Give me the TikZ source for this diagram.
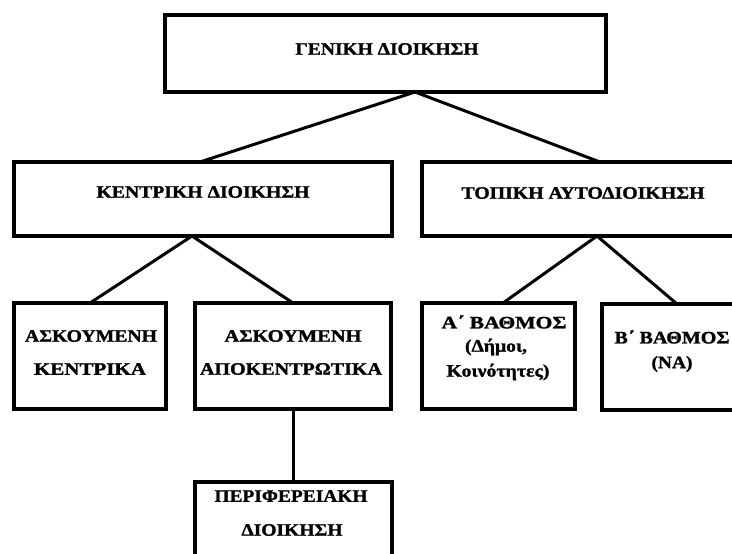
\documentclass[tikz,border=0pt]{standalone}
\usepackage{fontspec}
\usepackage{graphicx}
\setmainfont{Liberation Serif}[BoldFeatures={FakeBold=1.3}]
\newcommand{\fitto}[2]{\resizebox{#1}{\height}{#2}}
\begin{document}
\begin{tikzpicture}[x=1pt,y=-1pt,
  box/.style={draw=black, line width=3.2pt, fill=white, outer sep=0pt, inner sep=0pt},
  lbl/.style={font=\bfseries\fontsize{17.5}{21}\selectfont, inner sep=0pt, anchor=center},
  conn/.style={line width=3pt, line cap=round}]
\useasboundingbox (0,0) rectangle (732,554);
\clip (0,0) rectangle (732,554);
% boxes
\node[box, minimum width=441pt, minimum height=77pt] (gen) at (385.5,53.5) {};
\node[box, minimum width=378pt, minimum height=74pt] (ken) at (203,199) {};
\node[box, minimum width=323pt, minimum height=74pt] (top) at (583.5,199) {};
\node[box, minimum width=152pt, minimum height=106pt] (ak) at (90,356) {};
\node[box, minimum width=196pt, minimum height=106pt] (aa) at (293,356) {};
\node[box, minimum width=153pt, minimum height=106pt] (a1) at (498.5,356) {};
\node[box, minimum width=148pt, minimum height=106pt] (b2) at (676,357) {};
\node[box, minimum width=197pt, minimum height=98pt] (per) at (293.5,531) {};
% connectors
\draw[conn] ([xshift=29.5pt]gen.south) -- ([xshift=-3pt]ken.north);
\draw[conn] ([xshift=29.5pt]gen.south) -- ([xshift=16.5pt]top.north);
\draw[conn] ([xshift=-11pt]ken.south) -- (ak.north);
\draw[conn] ([xshift=-11pt]ken.south) -- (aa.north);
\draw[conn] ([xshift=13.5pt]top.south) -- ([xshift=4.5pt]a1.north);
\draw[conn] ([xshift=13.5pt]top.south) -- ([xshift=1pt]b2.north);
\draw[conn] (aa.south) -- (aa.south |- per.north);
% labels
\node[lbl] (tgen) at (387,49) {\fitto{183pt}{ΓΕΝΙΚΗ ΔΙΟΙΚΗΣΗ}};
\node[lbl] (tken) at (203,192) {\fitto{213pt}{ΚΕΝΤΡΙΚΗ ΔΙΟΙΚΗΣΗ}};
\node[lbl] (ttop) at (583,193) {\fitto{243pt}{ΤΟΠΙΚΗ ΑΥΤΟΔΙΟΙΚΗΣΗ}};
\node[lbl] (tak1) at (91,336) {\fitto{132pt}{ΑΣΚΟΥΜΕΝΗ}};
\node[lbl] (tak2) at (90,369) {\fitto{112pt}{ΚΕΝΤΡΙΚΑ}};
\node[lbl] (taa1) at (293,336) {\fitto{137pt}{ΑΣΚΟΥΜΕΝΗ}};
\node[lbl] (taa2) at (291,369) {\fitto{182pt}{ΑΠΟΚΕΝΤΡΩΤΙΚΑ}};
\node[lbl] (ta11) at (504,322) {\fitto{125pt}{Α΄ ΒΑΘΜΟΣ}};
\node[lbl] (ta12) at (496,347) {\fitto{62pt}{(Δήμοι,}};
\node[lbl] (ta13) at (498,372) {\fitto{103pt}{Κοινότητες)}};
\node[lbl] (tb21) at (672,337) {\fitto{115pt}{Β΄ ΒΑΘΜΟΣ}};
\node[lbl] (tb22) at (672,364) {\fitto{41pt}{(ΝΑ)}};
\node[lbl] (tpe1) at (291,496) {\fitto{153pt}{ΠΕΡΙΦΕΡΕΙΑΚΗ}};
\node[lbl] (tpe2) at (292,530) {\fitto{101pt}{ΔΙΟΙΚΗΣΗ}};
\end{tikzpicture}
\end{document}
